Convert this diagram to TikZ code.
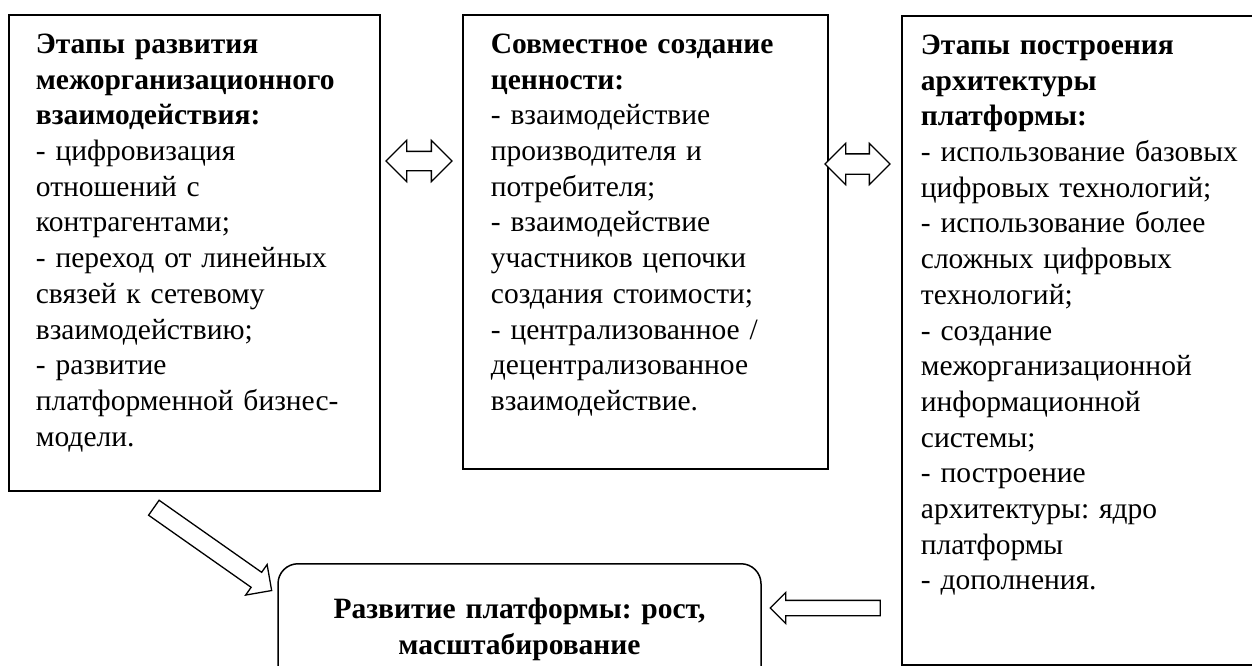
\documentclass[tikz,border=0pt]{standalone}
\usepackage{fontspec}
\setmainfont{Liberation Serif}
\usetikzlibrary{shapes.arrows}
\frenchspacing

\begin{document}
\begin{tikzpicture}[x=1pt, y=-1pt,
        % Stage boxes: thick border, text hangs from the top
        % (#1 text width, #2 left/right padding, #3 inner height)
        stage/.style n args={3}{rectangle, draw=black, line width=1.8pt,
            anchor=north west, align=left,
            font=\fontsize{29.5}{35.7}\selectfont,
            text width=#1, inner xsep=#2, inner ysep=19pt,
            execute at begin node={\vbox to #3\bgroup},
            execute at end node={\vfil\egroup}},
        % Result box: rounded corners, bold centred text
        result/.style={rectangle, rounded corners=20pt, draw=black, line width=1.5pt,
            anchor=north, align=center, text width=440pt, inner xsep=21.5pt,
            inner ysep=34pt, font=\fontsize{29.5}{36}\selectfont\bfseries,
            execute at begin node={\vbox to 60pt\bgroup},
            execute at end node={\vfil\egroup}},
        % Hollow block arrows between the boxes
        both/.style={double arrow, draw=black, line width=1.3pt, fill=white,
            inner xsep=0pt, double arrow head extend=11pt},
        towards/.style={single arrow, draw=black, line width=1.3pt, fill=white,
            inner xsep=0pt},
        ]
        \useasboundingbox (0,0) rectangle (1252,666);

        % Column x-coordinates (box left edges)
        \def\colA{8}
        \def\colB{462}
        \def\colC{901}
        % Row y-coordinates
        \def\rowTop{14}
        \def\rowLow{563}

        % === Top row: three stage boxes ===
        \node[stage={317pt}{27pt}{438pt}] (stages) at (\colA,\rowTop)
            {\textbf{Этапы развития}\\
             \textbf{межорганизационного}\\
             \textbf{взаимодействия:}\\
             - цифровизация\\
             отношений с\\
             контрагентами;\\
             - переход от линейных\\
             связей к сетевому\\
             взаимодействию;\\
             - развитие\\
             платформенной бизнес-\\
             модели.};
        \node[stage={309pt}{28pt}{416pt}] (value) at (\colB,\rowTop)
            {\textbf{Совместное создание}\\
             \textbf{ценности:}\\
             - взаимодействие\\
             производителя и\\
             потребителя;\\
             - взаимодействие\\
             участников цепочки\\
             создания стоимости;\\
             - централизованное /\\
             децентрализованное\\
             взаимодействие.};
        \node[stage={320pt}{19pt}{611pt}] (arch) at (\colC,15)
            {\textbf{Этапы построения}\\
             \textbf{архитектуры}\\
             \textbf{платформы:}\\
             - использование базовых\\
             цифровых технологий;\\
             - использование более\\
             сложных цифровых\\
             технологий;\\
             - создание\\
             межорганизационной\\
             информационной\\
             системы;\\
             - построение\\
             архитектуры: ядро\\
             платформы\\
             - дополнения.};

        % === Bottom: result box ===
        \node[result] (growth) at (519.5,\rowLow)
            {Развитие платформы: рост,\\масштабирование};

        % === Block arrows ===
        \node[both, inner ysep=9pt, minimum height=66pt] (sv) at (419,161) {};
        \node[both, inner ysep=9.5pt, minimum height=65pt, double arrow head extend=10.5pt]
            (va) at (857.5,164) {};
        \node[towards, inner ysep=8.5pt, single arrow head extend=9.5pt,
            minimum height=144pt, rotate=-35.1] (sg) at (209,546.5) {};
        \node[towards, inner ysep=7pt, single arrow head extend=8pt,
            minimum height=110pt, shape border rotate=180] (ag) at (829,608) {};

    \end{tikzpicture}
\end{document}
